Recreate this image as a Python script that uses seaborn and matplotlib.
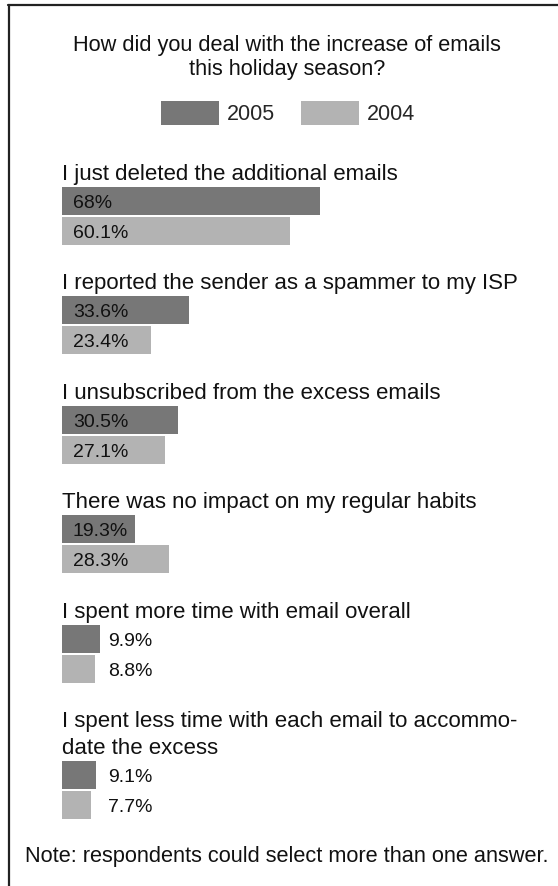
import matplotlib
matplotlib.use("Agg")
import matplotlib.pyplot as plt
import seaborn as sns
import pandas as pd
from matplotlib.patches import Patch
from matplotlib.lines import Line2D

# ---------------- data ----------------
title_lines = ["How did you deal with the increase of emails", "this holiday season?"]
years = ["2005", "2004"]
categories = [
    ["I just deleted the additional emails"],
    ["I reported the sender as a spammer to my ISP"],
    ["I unsubscribed from the excess emails"],
    ["There was no impact on my regular habits"],
    ["I spent more time with email overall"],
    ["I spent less time with each email to accommo-", "date the excess"],
]
values_2005 = [68, 33.6, 30.5, 19.3, 9.9, 9.1]
values_2004 = [60.1, 23.4, 27.1, 28.3, 8.8, 7.7]
note = "Note: respondents could select more than one answer."

# ---------------- style ----------------
sns.set_theme(style="white")
plt.rcParams["font.family"] = ["Liberation Sans", "DejaVu Sans"]

DARK = "#777777"
LIGHT = "#b3b3b3"
TXT = "#111111"
palette = {"2005": DARK, "2004": LIGHT}

W, H = 558, 886
fig = plt.figure(figsize=(W / 100, H / 100), dpi=100)
fig.patch.set_facecolor("white")


def fx(x):
    return x / W


def fy(y):
    return 1 - y / H


PX_PER_PCT = 3.79
BAR_X0 = 62
SLOT = 30.0
BAR_H = 27.5
bar_tops = [187, 296, 406, 515, 625, 761]
LINE_PITCH = 27
LABEL_FS = 16.0
TITLE_FS = 15.7
VALUE_FS = 14.0
LEGEND_FS = 15.5

# border (top + left)
fig.add_artist(Line2D([fx(8), fx(W)], [fy(5), fy(5)], color="#222222", lw=1.6))
fig.add_artist(Line2D([fx(8.5), fx(8.5)], [fy(5), fy(H)], color="#222222", lw=1.6))

# title
title_cx = 287
for k, line in enumerate(title_lines):
    fig.text(fx(title_cx), fy(51 + 24 * k), line, ha="center", va="baseline",
             fontsize=TITLE_FS, color=TXT)

# legend
fs_px = LEGEND_FS * 100 / 72
handles = [Patch(facecolor=palette[y], edgecolor="none", label=y) for y in years]
fig.legend(handles=handles, loc="center", bbox_to_anchor=(fx(288), fy(113)),
           ncol=2, frameon=False, fontsize=LEGEND_FS,
           handlelength=58 / fs_px, handleheight=28 / fs_px,
           handletextpad=8 / fs_px, columnspacing=26 / fs_px, borderpad=0)

# groups
for i, cat in enumerate(categories):
    df = pd.DataFrame({"year": years, "value": [values_2005[i], values_2004[i]]})
    slot_top = bar_tops[i] - (SLOT - BAR_H) / 2
    ax = fig.add_axes([fx(BAR_X0), fy(slot_top + 2 * SLOT), (W - BAR_X0) / W, 2 * SLOT / H])
    sns.barplot(data=df, x="value", y="year", hue="year", order=years, hue_order=years,
                palette=palette, width=BAR_H / SLOT, saturation=1, legend=False,
                orient="h", ax=ax, edgecolor="none")
    ax.set_xlim(0, (W - BAR_X0) / PX_PER_PCT)
    ax.set_ylim(1.5, -0.5)
    ax.axis("off")
    for j, v in enumerate(df["value"]):
        xpx = 11 if v >= 15 else 46
        ax.text(xpx / PX_PER_PCT, j + 0.23, f"{v:g}%", ha="left", va="baseline",
                fontsize=VALUE_FS, color=TXT)
    # category label lines above bars
    nlines = len(cat)
    for k, line in enumerate(cat):
        base = bar_tops[i] - 7 - (nlines - 1 - k) * LINE_PITCH
        fig.text(fx(BAR_X0), fy(base), line, ha="left", va="baseline",
                 fontsize=LABEL_FS, color=TXT)

# note
fig.text(fx(287), fy(862), note, ha="center", va="baseline", fontsize=TITLE_FS, color=TXT)

fig.savefig("out.png", dpi=100, facecolor="white")
